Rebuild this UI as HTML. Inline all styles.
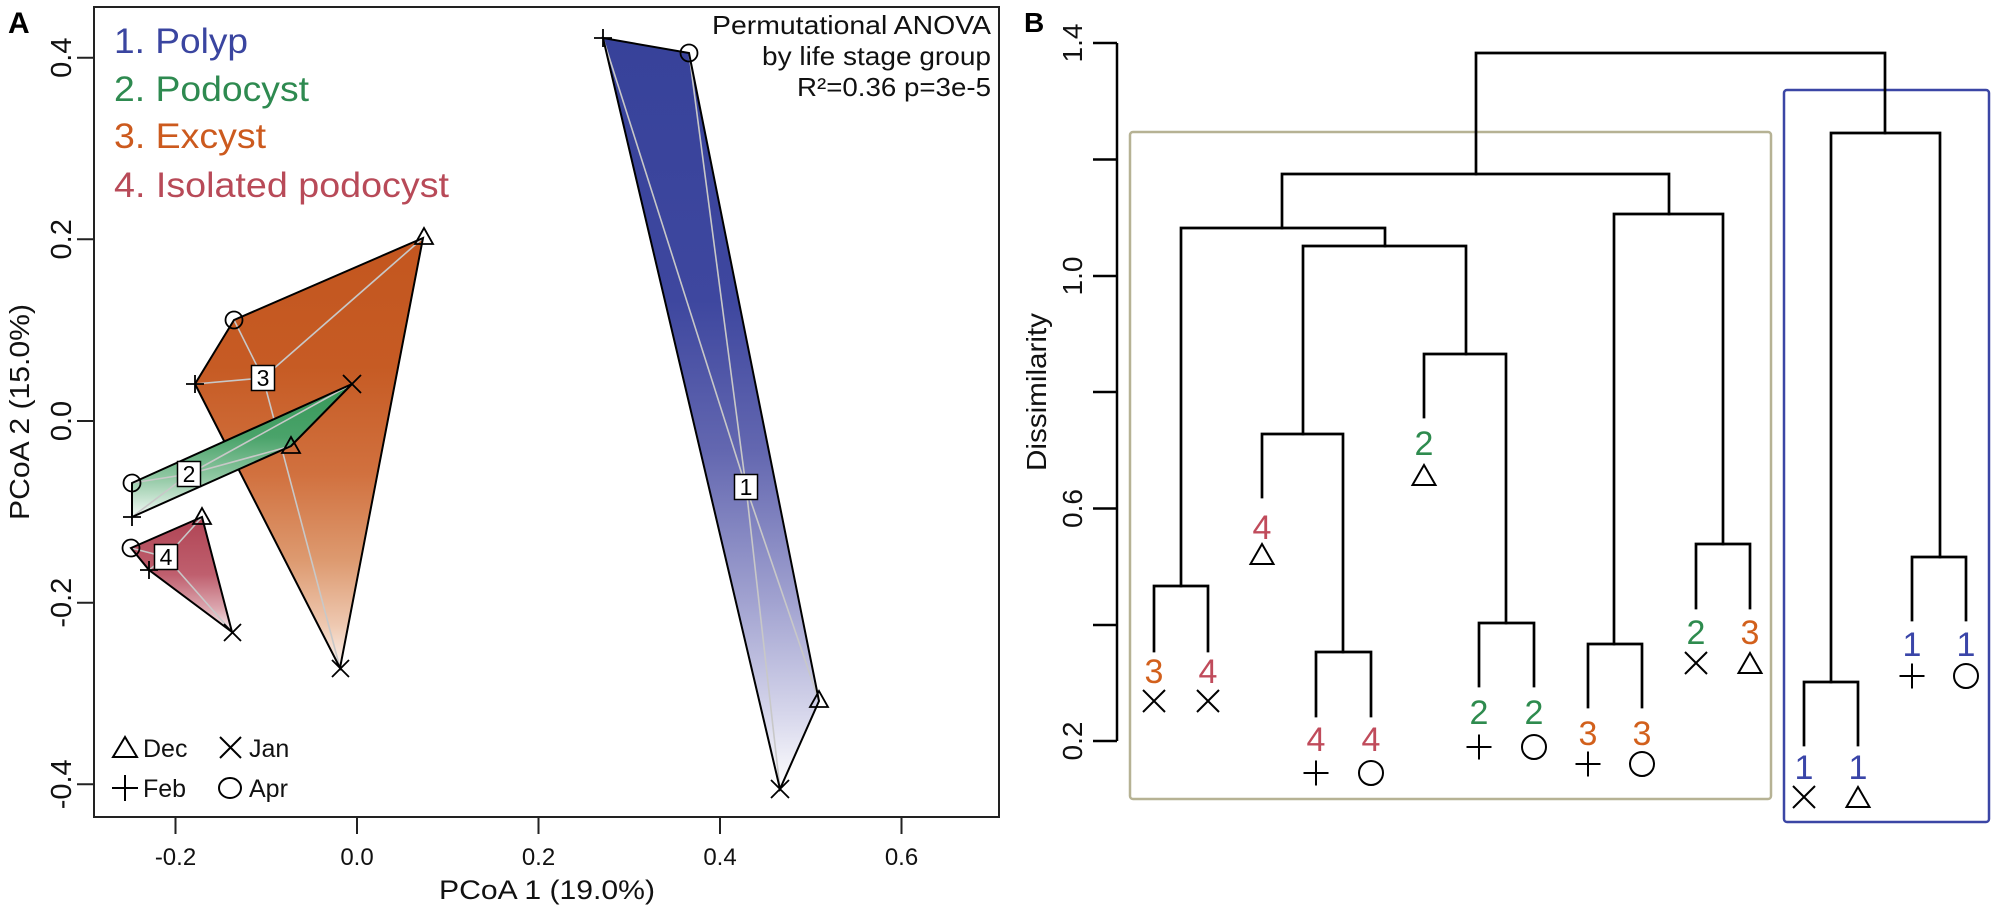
<!DOCTYPE html>
<html>
<head>
<meta charset="utf-8">
<style>
html,body{margin:0;padding:0;background:#fff;}
svg{display:block;}
text{font-family:"Liberation Sans",Arial,sans-serif;}
</style>
</head>
<body>
<svg xmlns="http://www.w3.org/2000/svg" width="2000" height="914" viewBox="0 0 2000 914">
<defs>
<linearGradient id="gB" x1="0" y1="0" x2="0" y2="1">
<stop offset="0" stop-color="#37429a"/>
<stop offset="0.35" stop-color="#3e479f"/>
<stop offset="0.55" stop-color="#6367b0"/>
<stop offset="0.75" stop-color="#a1a2d0"/>
<stop offset="0.9" stop-color="#d6d6eb"/>
<stop offset="1" stop-color="#ffffff"/>
</linearGradient>
<linearGradient id="gO" x1="0" y1="0" x2="0" y2="1">
<stop offset="0" stop-color="#c3561f"/>
<stop offset="0.3" stop-color="#c65b24"/>
<stop offset="0.55" stop-color="#d1713f"/>
<stop offset="0.75" stop-color="#dd9a70"/>
<stop offset="0.9" stop-color="#eec8b0"/>
<stop offset="1" stop-color="#fcf4ef"/>
</linearGradient>
<linearGradient id="gG" x1="0" y1="0" x2="0" y2="1">
<stop offset="0" stop-color="#359758"/>
<stop offset="0.4" stop-color="#4aa36a"/>
<stop offset="0.7" stop-color="#8fc7a2"/>
<stop offset="1" stop-color="#f4faf6"/>
</linearGradient>
<linearGradient id="gR" x1="0" y1="0" x2="0" y2="1">
<stop offset="0" stop-color="#b04454"/>
<stop offset="0.5" stop-color="#bf5f6e"/>
<stop offset="0.8" stop-color="#dca8b0"/>
<stop offset="1" stop-color="#fbf2f3"/>
</linearGradient>
</defs>
<rect x="0" y="0" width="2000" height="914" fill="#fff"/>

<!-- ============ PANEL A ============ -->
<text x="8" y="33" font-size="30" font-weight="bold" fill="#000">A</text>

<!-- Orange polygon -->
<polygon points="234,320 423,238 340,668 195,384" fill="url(#gO)" stroke="none"/>
<g stroke="#c8c8c8" stroke-width="1.6" fill="none">
<line x1="263" y1="378" x2="234" y2="320"/>
<line x1="263" y1="378" x2="423" y2="238"/>
<line x1="263" y1="378" x2="340" y2="668"/>
<line x1="263" y1="378" x2="195" y2="384"/>
</g>
<polygon points="234,320 423,238 340,668 195,384" fill="none" stroke="#000" stroke-width="2"/>

<!-- Green polygon -->
<polygon points="132,483 352,384 291,446 132,517" fill="url(#gG)" stroke="none"/>
<g stroke="#c8c8c8" stroke-width="1.6" fill="none">
<line x1="189" y1="474" x2="132" y2="483"/>
<line x1="189" y1="474" x2="352" y2="384"/>
<line x1="189" y1="474" x2="291" y2="446"/>
<line x1="189" y1="474" x2="132" y2="517"/>
</g>
<polygon points="132,483 352,384 291,446 132,517" fill="none" stroke="#000" stroke-width="2"/>

<!-- Red polygon -->
<polygon points="131,548 202,517 232,632 149,570" fill="url(#gR)" stroke="none"/>
<g stroke="#c8c8c8" stroke-width="1.6" fill="none">
<line x1="166" y1="557" x2="131" y2="548"/>
<line x1="166" y1="557" x2="202" y2="517"/>
<line x1="166" y1="557" x2="232" y2="632"/>
<line x1="166" y1="557" x2="149" y2="570"/>
</g>
<polygon points="131,548 202,517 232,632 149,570" fill="none" stroke="#000" stroke-width="2"/>

<!-- Blue polygon -->
<polygon points="603,38 689,53 819,701 780,789" fill="url(#gB)" stroke="none"/>
<g stroke="#c8c8c8" stroke-width="1.6" fill="none">
<line x1="746" y1="487" x2="603" y2="38"/>
<line x1="746" y1="487" x2="689" y2="53"/>
<line x1="746" y1="487" x2="819" y2="701"/>
<line x1="746" y1="487" x2="780" y2="789"/>
</g>
<polygon points="603,38 689,53 819,701 780,789" fill="none" stroke="#000" stroke-width="2"/>

<!-- Panel A point symbols -->
<g stroke="#000" stroke-width="1.8" fill="none">
<polygon points="424,228 415,244 433,244"/>
<circle cx="234" cy="320" r="8.5"/>
<path d="M186,384 h18 M195,375 v18"/>
<path d="M332,660 l17,17 M349,660 l-17,17"/>
<path d="M343,375 l18,18 M361,375 l-18,18"/>
<polygon points="291,437 282,453 300,453"/>
<circle cx="132" cy="483" r="8.5"/>
<path d="M123,517 h18 M132,508 v18"/>
<polygon points="202,508 193,524 211,524"/>
<circle cx="131" cy="548" r="8.5"/>
<path d="M140,570 h18 M149,561 v18"/>
<path d="M224,624 l17,17 M241,624 l-17,17"/>
<path d="M594,38 h18 M603,29 v18"/>
<circle cx="689" cy="53" r="8.5"/>
<polygon points="819,691 810,707 828,707"/>
<path d="M771,780 l18,18 M789,780 l-18,18"/>
</g>

<!-- centroid label boxes -->
<g font-size="23" text-anchor="middle" fill="#000">
<rect x="251.5" y="365.5" width="23" height="25" fill="#fff" stroke="#000" stroke-width="1.5"/>
<text x="263" y="386">3</text>
<rect x="177.5" y="461.5" width="23" height="25" fill="#fff" stroke="#000" stroke-width="1.5"/>
<text x="189" y="482">2</text>
<rect x="154.5" y="544.5" width="23" height="25" fill="#fff" stroke="#000" stroke-width="1.5"/>
<text x="166" y="565">4</text>
<rect x="734.5" y="474.5" width="23" height="25" fill="#fff" stroke="#000" stroke-width="1.5"/>
<text x="746" y="495">1</text>
</g>

<!-- Frame -->
<rect x="94" y="7" width="905" height="810" fill="none" stroke="#222" stroke-width="2"/>

<!-- Ticks A -->
<g stroke="#222" stroke-width="2">
<line x1="175.5" y1="817" x2="175.5" y2="834"/>
<line x1="357" y1="817" x2="357" y2="834"/>
<line x1="538.5" y1="817" x2="538.5" y2="834"/>
<line x1="720" y1="817" x2="720" y2="834"/>
<line x1="901.5" y1="817" x2="901.5" y2="834"/>
<line x1="77" y1="57.7" x2="94" y2="57.7"/>
<line x1="77" y1="239.3" x2="94" y2="239.3"/>
<line x1="77" y1="421" x2="94" y2="421"/>
<line x1="77" y1="602.7" x2="94" y2="602.7"/>
<line x1="77" y1="784.3" x2="94" y2="784.3"/>
</g>
<g font-size="24" text-anchor="middle" fill="#111">
<text x="175.5" y="865">-0.2</text>
<text x="357" y="865">0.0</text>
<text x="538.5" y="865">0.2</text>
<text x="720" y="865">0.4</text>
<text x="901.5" y="865">0.6</text>
</g>
<g font-size="29" text-anchor="middle" fill="#111">
<text transform="translate(71,57.7) rotate(-90)">0.4</text>
<text transform="translate(71,239.3) rotate(-90)">0.2</text>
<text transform="translate(71,421) rotate(-90)">0.0</text>
<text transform="translate(71,602.7) rotate(-90)">-0.2</text>
<text transform="translate(71,784.3) rotate(-90)">-0.4</text>
</g>
<text x="547" y="899" font-size="27" text-anchor="middle" fill="#111" textLength="216" lengthAdjust="spacingAndGlyphs">PCoA 1 (19.0%)</text>
<text transform="translate(29,412) rotate(-90)" font-size="28" text-anchor="middle" fill="#111" textLength="216" lengthAdjust="spacingAndGlyphs">PCoA 2 (15.0%)</text>

<!-- Legend groups -->
<g font-size="35">
<text x="114" y="53" fill="#3a45a0" textLength="134" lengthAdjust="spacingAndGlyphs">1. Polyp</text>
<text x="114" y="101" fill="#2e8a50" textLength="195" lengthAdjust="spacingAndGlyphs">2. Podocyst</text>
<text x="114" y="148" fill="#cc5a1e" textLength="152" lengthAdjust="spacingAndGlyphs">3. Excyst</text>
<text x="114" y="197" fill="#b84a58" textLength="335" lengthAdjust="spacingAndGlyphs">4. Isolated podocyst</text>
</g>

<!-- Stats text -->
<g font-size="26" text-anchor="end" fill="#111">
<text x="991" y="34" textLength="279" lengthAdjust="spacingAndGlyphs">Permutational ANOVA</text>
<text x="991" y="65" textLength="229" lengthAdjust="spacingAndGlyphs">by life stage group</text>
<text x="991" y="96" textLength="194" lengthAdjust="spacingAndGlyphs">R²=0.36 p=3e-5</text>
</g>

<!-- Month legend -->
<g stroke="#000" stroke-width="2" fill="none">
<polygon points="125,737 113,757 137,757"/>
<path d="M220,737 l21,21 M241,737 l-21,21"/>
<path d="M112,788 h26 M125,775 v26"/>
<ellipse cx="230" cy="788" rx="11" ry="10"/>
</g>
<g font-size="25" fill="#111">
<text x="143" y="757">Dec</text>
<text x="249" y="757">Jan</text>
<text x="143" y="797">Feb</text>
<text x="249" y="797">Apr</text>
</g>

<!-- ============ PANEL B ============ -->
<text x="1024" y="32" font-size="28" font-weight="bold" fill="#000">B</text>

<rect x="1130" y="132" width="641" height="667" rx="3" fill="none" stroke="#b6b294" stroke-width="2.5"/>
<rect x="1784" y="90" width="205" height="732" rx="3" fill="none" stroke="#3b46a5" stroke-width="2.5"/>

<g stroke="#000" stroke-width="2.5" fill="none">
<line x1="1117" y1="43" x2="1117" y2="741"/>
<line x1="1093" y1="43" x2="1117" y2="43"/>
<line x1="1093" y1="159.5" x2="1117" y2="159.5"/>
<line x1="1093" y1="276" x2="1117" y2="276"/>
<line x1="1093" y1="392" x2="1117" y2="392"/>
<line x1="1093" y1="508.5" x2="1117" y2="508.5"/>
<line x1="1093" y1="625" x2="1117" y2="625"/>
<line x1="1093" y1="741" x2="1117" y2="741"/>
</g>
<g font-size="28" text-anchor="middle" fill="#111">
<text transform="translate(1082,43) rotate(-90)">1.4</text>
<text transform="translate(1082,276) rotate(-90)">1.0</text>
<text transform="translate(1082,508.5) rotate(-90)">0.6</text>
<text transform="translate(1082,741) rotate(-90)">0.2</text>
</g>
<text transform="translate(1046,392) rotate(-90)" font-size="28" text-anchor="middle" fill="#111" textLength="158" lengthAdjust="spacingAndGlyphs">Dissimilarity</text>

<g stroke="#000" stroke-width="2.7" fill="none" stroke-linecap="square">
<path d="M1476,174 V53 H1885 V133"/>
<path d="M1282,228 V174 H1669 V214"/>
<path d="M1181,586 V228 H1385 V246"/>
<path d="M1154,651 V586 H1208 V651"/>
<path d="M1303,434 V246 H1466 V354"/>
<path d="M1262,497 V434 H1343 V652"/>
<path d="M1316,716 V652 H1371 V716"/>
<path d="M1424,417 V354 H1506 V623"/>
<path d="M1479,686 V623 H1534 V686"/>
<path d="M1614,644 V214 H1723 V544"/>
<path d="M1588,707 V644 H1642 V707"/>
<path d="M1696,608 V544 H1750 V608"/>
<path d="M1831,682 V133 H1940 V557"/>
<path d="M1804,745 V682 H1858 V745"/>
<path d="M1912,620 V557 H1966 V620"/>
</g>

<g font-size="34" text-anchor="middle">
<text x="1154" y="683" fill="#d2601c">3</text>
<text x="1208" y="683" fill="#c04b5b">4</text>
<text x="1262" y="539" fill="#c04b5b">4</text>
<text x="1316" y="751" fill="#c04b5b">4</text>
<text x="1371" y="751" fill="#c04b5b">4</text>
<text x="1424" y="455" fill="#2e8b4e">2</text>
<text x="1479" y="724" fill="#2e8b4e">2</text>
<text x="1534" y="724" fill="#2e8b4e">2</text>
<text x="1588" y="745" fill="#d2601c">3</text>
<text x="1642" y="745" fill="#d2601c">3</text>
<text x="1696" y="644" fill="#2e8b4e">2</text>
<text x="1750" y="644" fill="#d2601c">3</text>
<text x="1804" y="779" fill="#3a45a8">1</text>
<text x="1858" y="779" fill="#3a45a8">1</text>
<text x="1912" y="656" fill="#3a45a8">1</text>
<text x="1966" y="656" fill="#3a45a8">1</text>
</g>

<g stroke="#000" stroke-width="2" fill="none">
<path d="M1143,690 l22,22 M1165,690 l-22,22"/>
<path d="M1197,690 l22,22 M1219,690 l-22,22"/>
<polygon points="1262,544 1250.5,564 1273.5,564"/>
<path d="M1303.5,773 h25 M1316,760.5 v25"/>
<circle cx="1371" cy="773" r="12"/>
<polygon points="1424,465 1412.5,485 1435.5,485"/>
<path d="M1466.5,747 h25 M1479,734.5 v25"/>
<circle cx="1534" cy="747" r="12"/>
<path d="M1575.5,764 h25 M1588,751.5 v25"/>
<circle cx="1642" cy="764" r="12"/>
<path d="M1685,652 l22,22 M1707,652 l-22,22"/>
<polygon points="1750,653 1738.5,673 1761.5,673"/>
<path d="M1793,786 l22,22 M1815,786 l-22,22"/>
<polygon points="1858,787 1846.5,807 1869.5,807"/>
<path d="M1899.5,676 h25 M1912,663.5 v25"/>
<circle cx="1966" cy="676" r="12"/>
</g>
</svg>
</body>
</html>
